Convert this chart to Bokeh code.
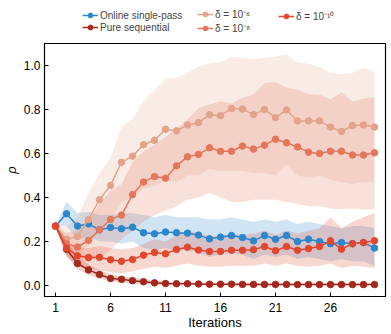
from bokeh.plotting import figure
from bokeh.layouts import column
from bokeh.models import Legend, LegendItem, FixedTicker, Range1d
from bokeh.embed import file_html
from bokeh.resources import INLINE

iterations = list(range(1, 31))

online = [0.27, 0.326, 0.27, 0.28, 0.253, 0.264, 0.258, 0.265, 0.24, 0.235, 0.243, 0.24, 0.238, 0.229, 0.212,
          0.22, 0.227, 0.218, 0.203, 0.227, 0.21, 0.227, 0.2, 0.21, 0.2, 0.19, 0.195, 0.19, 0.195, 0.17]
online_lo = [0.27, 0.27, 0.21, 0.22, 0.2, 0.2, 0.19, 0.2, 0.17, 0.16, 0.17, 0.16, 0.16, 0.15, 0.13,
             0.14, 0.15, 0.14, 0.12, 0.14, 0.13, 0.14, 0.12, 0.13, 0.12, 0.11, 0.12, 0.11, 0.11, 0.09]
online_hi = [0.27, 0.38, 0.33, 0.335, 0.32, 0.32, 0.33, 0.33, 0.32, 0.31, 0.32, 0.31, 0.31, 0.31, 0.3,
             0.3, 0.31, 0.3, 0.29, 0.3, 0.29, 0.3, 0.28, 0.29, 0.28, 0.27, 0.26, 0.27, 0.27, 0.26]

pure = [0.27, 0.165, 0.1, 0.071, 0.05, 0.032, 0.028, 0.022, 0.017, 0.012, 0.009, 0.008, 0.008, 0.007, 0.006,
        0.006, 0.006, 0.005, 0.005, 0.005, 0.005, 0.005, 0.004, 0.004, 0.004, 0.004, 0.004, 0.004, 0.004, 0.004]
pure_lo = [0.27, 0.135, 0.075, 0.048, 0.032, 0.018, 0.014, 0.01, 0.007, 0.004, 0.002, 0.001, 0.001, 0.0, 0.0,
           0.0, 0.0, 0.0, 0.0, 0.0, 0.0, 0.0, 0.0, 0.0, 0.0, 0.0, 0.0, 0.0, 0.0, 0.0]
pure_hi = [0.27, 0.2, 0.13, 0.095, 0.07, 0.05, 0.044, 0.036, 0.029, 0.022, 0.018, 0.016, 0.015, 0.014, 0.013,
           0.013, 0.012, 0.011, 0.011, 0.011, 0.011, 0.011, 0.01, 0.01, 0.01, 0.01, 0.01, 0.01, 0.01, 0.01]

delta6 = [0.27, 0.21, 0.223, 0.3, 0.39, 0.455, 0.56, 0.588, 0.64, 0.66, 0.71, 0.703, 0.73, 0.74, 0.776,
          0.772, 0.805, 0.802, 0.777, 0.8, 0.763, 0.798, 0.748, 0.748, 0.748, 0.72, 0.7, 0.727, 0.73, 0.72]
delta6_lo = [0.27, 0.15, 0.14, 0.18, 0.25, 0.3, 0.38, 0.4, 0.44, 0.45, 0.48, 0.47, 0.5, 0.5, 0.53,
             0.52, 0.52, 0.52, 0.51, 0.51, 0.5, 0.55, 0.5, 0.49, 0.5, 0.48, 0.47, 0.46, 0.47, 0.47]
delta6_hi = [0.27, 0.27, 0.31, 0.42, 0.51, 0.58, 0.72, 0.756, 0.84, 0.89, 0.94, 0.944, 0.967, 0.994, 1.01,
             1.015, 1.04, 1.035, 1.027, 1.035, 1.04, 1.05, 1.015, 1.008, 0.994, 0.967, 0.96, 0.967, 0.99, 0.97]

delta8 = [0.27, 0.19, 0.175, 0.205, 0.253, 0.3, 0.32, 0.413, 0.47, 0.495, 0.488, 0.544, 0.585, 0.596, 0.626,
          0.61, 0.61, 0.634, 0.62, 0.638, 0.665, 0.649, 0.63, 0.606, 0.6, 0.61, 0.61, 0.593, 0.593, 0.603]
delta8_lo = [0.27, 0.14, 0.11, 0.11, 0.13, 0.16, 0.21, 0.25, 0.29, 0.32, 0.34, 0.36, 0.39, 0.4, 0.42,
             0.4, 0.38, 0.38, 0.39, 0.39, 0.39, 0.38, 0.37, 0.36, 0.36, 0.35, 0.345, 0.35, 0.345, 0.347]
delta8_hi = [0.27, 0.24, 0.25, 0.3, 0.37, 0.43, 0.46, 0.56, 0.61, 0.64, 0.676, 0.712, 0.755, 0.807, 0.823,
             0.838, 0.827, 0.853, 0.868, 0.92, 0.925, 0.9, 0.89, 0.87, 0.867, 0.847, 0.877, 0.836, 0.85, 0.856]

delta10 = [0.27, 0.17, 0.135, 0.127, 0.128, 0.117, 0.11, 0.118, 0.138, 0.15, 0.144, 0.164, 0.174, 0.161, 0.155,
           0.155, 0.16, 0.16, 0.163, 0.177, 0.158, 0.177, 0.16, 0.168, 0.177, 0.203, 0.165, 0.19, 0.195, 0.203]
delta10_lo = [0.27, 0.13, 0.09, 0.075, 0.07, 0.06, 0.055, 0.065, 0.075, 0.085, 0.08, 0.09, 0.1, 0.09, 0.085,
              0.085, 0.09, 0.09, 0.09, 0.1, 0.09, 0.1, 0.09, 0.085, 0.09, 0.1, 0.08, 0.09, 0.085, 0.08]
delta10_hi = [0.27, 0.2, 0.17, 0.17, 0.18, 0.17, 0.165, 0.17, 0.19, 0.21, 0.2, 0.23, 0.25, 0.235, 0.225,
              0.225, 0.235, 0.23, 0.235, 0.25, 0.23, 0.25, 0.235, 0.25, 0.26, 0.31, 0.26, 0.29, 0.31, 0.33]

labels = ["Online single-pass", "Pure sequential", "δ = 10⁻⁶", "δ = 10⁻⁸", "δ = 10⁻¹⁰"]
colors = ["#2b86cb", "#a5281d", "#e3a38b", "#e4765c", "#e2472e"]

x_ticks = [1, 6, 11, 16, 21, 26]
y_ticks = [0.0, 0.2, 0.4, 0.6, 0.8, 1.0]
y_tick_labels = ["0.0", "0.2", "0.4", "0.6", "0.8", "1.0"]

FONT = "Liberation Sans"

p = figure(frame_width=341, frame_height=253, output_backend="svg", toolbar_location=None,
           x_range=Range1d(0, 31), y_range=Range1d(-0.05, 1.1),
           min_border_left=36, min_border_right=6, min_border_top=5, min_border_bottom=37)

p.xgrid.visible = False
p.ygrid.visible = False
p.outline_line_color = "black"
p.outline_line_width = 1.2
p.outline_line_alpha = 1.0

series = [
    (online, online_lo, online_hi),
    (pure, pure_lo, pure_hi),
    (delta6, delta6_lo, delta6_hi),
    (delta8, delta8_lo, delta8_hi),
    (delta10, delta10_lo, delta10_hi),
]

for (mean, lo, hi), c in zip(series, colors):
    p.varea(x=iterations, y1=lo, y2=hi, fill_color=c, fill_alpha=0.22)

for (mean, lo, hi), c in zip(series, colors):
    p.line(iterations, mean, line_color=c, line_width=1.5)
    p.scatter(iterations, mean, size=6.5, fill_color=c, line_color=c)

p.xaxis.ticker = FixedTicker(ticks=x_ticks)
p.yaxis.ticker = FixedTicker(ticks=y_ticks)
p.yaxis.major_label_overrides = {t: l for t, l in zip(y_ticks, y_tick_labels)}
p.xaxis.axis_label = "Iterations"
p.yaxis.axis_label = "ρ"
for ax in (p.xaxis, p.yaxis):
    ax.major_tick_in = 4
    ax.major_tick_out = 0
    ax.minor_tick_line_color = None
    ax.axis_line_color = "black"
    ax.major_tick_line_color = "black"
    ax.major_label_text_font = FONT
    ax.major_label_text_font_size = "12px"
    ax.major_label_text_color = "black"
    ax.axis_label_text_font = FONT
    ax.axis_label_text_font_size = "13px"
    ax.axis_label_text_font_style = "normal"
    ax.axis_label_text_color = "black"
p.yaxis.axis_label_text_font_style = "italic"
p.xaxis.major_label_standoff = 6
p.yaxis.major_label_standoff = 4
p.xaxis.axis_label_standoff = 0
p.yaxis.axis_label_standoff = 2

# legend strip above the chart; its renderers hold the series but lie outside its view,
# so only the legend icons and labels are visible
leg = figure(frame_width=383, frame_height=38, output_backend="svg", toolbar_location=None,
             x_axis_location=None, y_axis_location=None,
             x_range=Range1d(100, 101), y_range=Range1d(0, 1),
             min_border_left=0, min_border_right=0, min_border_top=0, min_border_bottom=0)
leg.xgrid.visible = False
leg.ygrid.visible = False
leg.outline_line_color = None

items = []
for (mean, lo, hi), c, lab in zip(series, colors, labels):
    ln = leg.line(iterations, mean, line_color=c, line_width=1.5)
    sc = leg.scatter(iterations, mean, size=6.5, fill_color=c, line_color=c)
    items.append(LegendItem(label=lab, renderers=[ln, sc]))

def make_legend(its, loc):
    return Legend(items=its, location=loc, orientation="vertical",
                  label_text_font=FONT, label_text_font_size="10px",
                  glyph_width=16, glyph_height=12, label_height=12, label_standoff=2,
                  spacing=0, padding=0, margin=0,
                  border_line_alpha=0, background_fill_alpha=0)

leg.add_layout(make_legend(items[0:2], (82, 5)))
leg.add_layout(make_legend(items[2:4], (197, 3.5)))
leg.add_layout(make_legend(items[4:5], (278, 15.5)))

layout = column(leg, p, spacing=0)
open("out.html", "w").write(file_html(layout, INLINE))
